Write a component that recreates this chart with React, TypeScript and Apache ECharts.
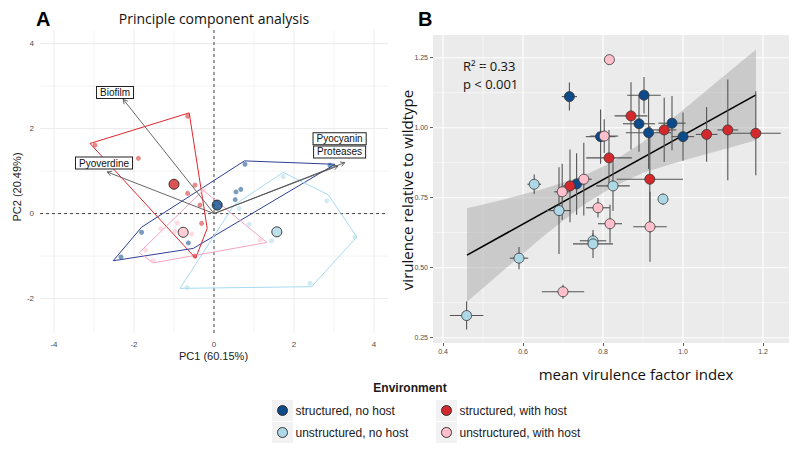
import React, { useEffect, useRef } from 'react';
import * as echarts from 'echarts';

// ---------- groups ----------
const groupNames = ['structured, no host', 'unstructured, no host', 'structured, with host', 'unstructured, with host'];
const fillColors = ['#0C4A8A', '#ADD8E6', '#D3282C', '#FFC0CB'];
const hullColors = ['#2E3F94', '#A6DBF2', '#E3262B', '#F5A3C3'];

// ---------- Panel A: PCA ----------
const pcaXTicks = [-4, -2, 0, 2, 4];
const pcaYTicks = [-2, 0, 2, 4];
const pcaSNH = [[0.775, 1.16], [2.9, 1.14], [0.55, 0.51], [0.67, 0.57], [0.53, 0.33], [-1.81, -0.44], [-0.64, -0.69], [-2.325, -1.02]];
const pcaUNH = [[1.73, 0.87], [2.82, 0.3], [3.525, -0.55], [2.4, -1.64], [-0.675, -1.74], [0.63, 0.12], [0.88, -0.25], [1.44, -0.64]];
const pcaSWH = [[-2.975, 1.61], [-1.89, 1.3], [-0.66, 2.29], [-0.475, 0.67], [-0.66, 0.475], [-0.35, 0.2], [-0.31, -0.23], [-0.48, -1.0]];
const pcaUWH = [[-1.325, -0.35], [-0.92, -0.22], [-0.56, -0.48], [-0.975, -0.42], [-1.71, -0.86], [-1.52, -1.11], [1.15, -0.62], [-0.27, 0.55]];
const hullSNH = [[-2.52, -1.11], [-1.81, -0.32], [0.76, 1.24], [3.025, 1.16], [-0.52, -0.82]];
const hullUNH = [[-0.85, -1.76], [0.5, 0.2], [1.73, 0.97], [2.86, 0.44], [3.57, -0.55], [2.44, -1.72]];
const hullSWH = [[-3.1, 1.65], [-0.62, 2.37], [-0.17, -0.35], [-0.46, -1.05]];
const hullUWH = [[-0.27, 0.55], [1.32, -0.68], [-1.52, -1.16], [-1.87, -0.92]];
const centroids = [[0.08, 0.2], [1.57, -0.43], [-1.0, 0.69], [-0.77, -0.44]];
const loadingNames = ['Biofilm', 'Pyoverdine', 'Pyocyanin', 'Proteases'];
const loadingTips = [[-2.27, 2.69], [-2.67, 0.98], [3.27, 1.2], [3.1, 1.12]];
const loadingLabelPos = [[-2.475, 2.85], [-2.75, 1.19], [3.14, 1.76], [3.14, 1.45]];

// ---------- Panel B: virulence ----------
const virXTicks = [0.4, 0.6, 0.8, 1.0, 1.2];
const virYTicks = [0.25, 0.5, 0.75, 1.0, 1.25];
// [x, y, xerr, yerr]
const virSNH = [[0.716, 1.111, 0.019, 0.05], [0.9025, 1.116, 0.042, 0.065], [0.89, 1.014, 0.04, 0.1], [0.914, 0.982, 0.057, 0.13], [0.9725, 1.016, 0.034, 0.097], [1.0, 0.968, 0.028, 0.086], [0.794, 0.968, 0.037, 0.097], [0.734, 0.799, 0.02, 0.11]];
const virUNH = [[0.628, 0.798, 0.017, 0.035], [0.825, 0.792, 0.042, 0.09], [0.95, 0.745, 0.01, 0.02], [0.69, 0.704, 0.03, 0.155], [0.775, 0.596, 0.033, 0.025], [0.775, 0.585, 0.05, 0.05], [0.59, 0.534, 0.023, 0.04], [0.459, 0.329, 0.042, 0.05]];
const virSWH = [[0.87, 1.042, 0.041, 0.12], [0.953, 0.992, 0.03, 0.115], [1.059, 0.976, 0.027, 0.098], [1.112, 0.992, 0.026, 0.18], [1.182, 0.98, 0.0625, 0.15], [0.815, 0.892, 0.057, 0.1], [0.917, 0.816, 0.083, 0.19], [0.7175, 0.792, 0.02, 0.13]];
const virUWH = [[0.816, 1.243, 0.012, 0.015], [0.803, 0.97, 0.035, 0.06], [0.752, 0.816, 0.02, 0.13], [0.698, 0.771, 0.02, 0.1], [0.7875, 0.714, 0.03, 0.035], [0.8175, 0.657, 0.03, 0.068], [0.9175, 0.646, 0.042, 0.125], [0.70, 0.414, 0.053, 0.025]];
const fitX = [0.46, 1.1825];
const fitY = [0.545, 1.117];
const bandX = [0.46, 0.55, 0.65, 0.75, 0.82, 0.9, 1.0, 1.1, 1.1825];
const bandLow = [0.378, 0.489, 0.611, 0.723, 0.785, 0.839, 0.883, 0.922, 0.955];
const bandHigh = [0.712, 0.743, 0.781, 0.827, 0.875, 0.949, 1.063, 1.182, 1.279];

const PCA_X = [-4.35, 4.35];
const PCA_Y = [-2.81, 4.32];
const VIR_X = [0.375, 1.265];
const VIR_Y = [0.231, 1.331];

const SANS = 'Liberation Sans, Arial, sans-serif';
const HUM = 'Open Sans, Noto Sans, sans-serif';

function gridLineData(xt: number[], yt: number[]) {
  const d: number[][] = [];
  const xs = xt[1] - xt[0];
  const ys = yt[1] - yt[0];
  xt.forEach((v) => d.push([v, 0, 1]));
  xt.slice(0, -1).forEach((v) => d.push([v + xs / 2, 0, 0]));
  yt.forEach((v) => d.push([v, 1, 1]));
  yt.slice(0, -1).forEach((v) => d.push([v + ys / 2, 1, 0]));
  d.push([yt[yt.length - 1] + ys / 2, 1, 0]);
  return d;
}

function gridSeries(idx: number, xt: number[], yt: number[], xr: number[], yr: number[], color: string, wMaj: number, wMin: number) {
  const data = gridLineData(xt, yt).filter((r) => (r[1] === 0 ? r[0] > xr[0] && r[0] < xr[1] : r[0] > yr[0] && r[0] < yr[1]));
  return {
    type: 'custom', xAxisIndex: idx, yAxisIndex: idx, z: 0, silent: true, clip: false,
    encode: { x: 2, y: 2 },
    data,
    renderItem: (params: any, api: any) => {
      const v = api.value(0), o = api.value(1), m = api.value(2);
      const p1 = o === 0 ? api.coord([v, yr[0]]) : api.coord([xr[0], v]);
      const p2 = o === 0 ? api.coord([v, yr[1]]) : api.coord([xr[1], v]);
      return { type: 'line', shape: { x1: p1[0], y1: p1[1], x2: p2[0], y2: p2[1] }, style: { stroke: color, lineWidth: m ? wMaj : wMin } };
    },
  };
}

function hullSeries(hull: number[][], color: string) {
  return {
    type: 'custom', xAxisIndex: 0, yAxisIndex: 0, z: 3, silent: true, clip: false,
    data: [[0, 0]],
    renderItem: (params: any, api: any) => ({
      type: 'polygon',
      shape: { points: hull.map((p) => api.coord(p)) },
      style: { fill: 'none', stroke: color, lineWidth: 1 },
    }),
  };
}

export default function App() {
  const ref = useRef<HTMLDivElement>(null);
  useEffect(() => {
    if (!ref.current) return;
    const chart = echarts.init(ref.current, undefined, { renderer: 'svg' });
    const pcaGroups = [pcaSNH, pcaUNH, pcaSWH, pcaUWH];
    const hulls = [hullSNH, hullUNH, hullSWH, hullUWH];
    const virGroups = [virSNH, virUNH, virSWH, virUWH];
    const allErr = ([] as number[][]).concat(virSNH, virUNH, virSWH, virUWH);

    const series: any[] = [];
    series.push(gridSeries(0, pcaXTicks, pcaYTicks, PCA_X, PCA_Y, '#EBEBEB', 1, 0.6));
    series.push(gridSeries(1, virXTicks, virYTicks, VIR_X, VIR_Y, '#FFFFFF', 1.1, 0.55));
    // zero lines
    series.push({
      type: 'custom', xAxisIndex: 0, yAxisIndex: 0, z: 1, silent: true, clip: false, data: [[0, 0]],
      renderItem: (params: any, api: any) => {
        const a = api.coord([0, PCA_Y[0]]), b = api.coord([0, PCA_Y[1]]);
        const c = api.coord([PCA_X[0], 0]), d = api.coord([PCA_X[1], 0]);
        const st = { stroke: '#333', lineWidth: 0.9, lineDash: [3, 3] };
        return { type: 'group', children: [
          { type: 'line', shape: { x1: a[0], y1: a[1], x2: b[0], y2: b[1] }, style: st },
          { type: 'line', shape: { x1: c[0], y1: c[1], x2: d[0], y2: d[1] }, style: st },
        ] };
      },
    });
    hulls.forEach((h, i) => series.push(hullSeries(h, hullColors[i])));
    // arrows
    series.push({
      type: 'custom', xAxisIndex: 0, yAxisIndex: 0, z: 4, silent: true, clip: false, data: loadingTips,
      renderItem: (params: any, api: any) => {
        const o = api.coord([0, 0]);
        const t = api.coord([api.value(0), api.value(1)]);
        const ang = Math.atan2(t[1] - o[1], t[0] - o[0]);
        const L = 5, a = 0.5;
        const p1 = [t[0] - L * Math.cos(ang - a), t[1] - L * Math.sin(ang - a)];
        const p2 = [t[0] - L * Math.cos(ang + a), t[1] - L * Math.sin(ang + a)];
        const st = { stroke: '#555', lineWidth: 0.9, fill: 'none' };
        return { type: 'group', children: [
          { type: 'line', shape: { x1: o[0], y1: o[1], x2: t[0], y2: t[1] }, style: st },
          { type: 'polyline', shape: { points: [p1, t, p2] }, style: st },
        ] };
      },
    });
    pcaGroups.forEach((g, i) => series.push({
      type: 'scatter', xAxisIndex: 0, yAxisIndex: 0, z: 5, silent: true, data: g,
      symbolSize: 5, itemStyle: { color: fillColors[i], opacity: 0.55 },
    }));
    series.push({
      type: 'scatter', xAxisIndex: 0, yAxisIndex: 0, z: 6, silent: true,
      data: centroids.map((c, i) => ({ value: c, itemStyle: { color: fillColors[i] } })),
      symbolSize: 10, itemStyle: { borderColor: '#111', borderWidth: 1 },
    });
    // loading labels
    series.push({
      type: 'custom', xAxisIndex: 0, yAxisIndex: 0, z: 7, silent: true, clip: false,
      data: loadingLabelPos.map((p, i) => [p[0], p[1], i]),
      renderItem: (params: any, api: any) => {
        const c = api.coord([api.value(0), api.value(1)]);
        return {
          type: 'text', x: c[0], y: c[1],
          style: { text: loadingNames[api.value(2)], font: `10px ${SANS}`, fill: '#111', align: 'center', verticalAlign: 'middle',
            backgroundColor: '#fff', borderColor: '#222', borderWidth: 1, padding: [1, 3, 0, 3] },
        };
      },
    });

    // panel B
    series.push({
      type: 'custom', xAxisIndex: 1, yAxisIndex: 1, z: 2, silent: true, clip: false, data: [[0.8, 0.8]],
      renderItem: (params: any, api: any) => {
        const pts = bandX.map((x, i) => api.coord([x, bandHigh[i]]))
          .concat(bandX.map((x, i) => api.coord([x, bandLow[i]])).reverse());
        return { type: 'polygon', shape: { points: pts }, style: { fill: 'rgba(153,153,153,0.4)' } };
      },
    });
    series.push({
      type: 'line', xAxisIndex: 1, yAxisIndex: 1, z: 3, silent: true, symbol: 'none',
      data: fitX.map((x, i) => [x, fitY[i]]), lineStyle: { color: '#000', width: 1.6 },
    });
    series.push({
      type: 'custom', xAxisIndex: 1, yAxisIndex: 1, z: 4, silent: true, clip: false, data: allErr,
      renderItem: (params: any, api: any) => {
        const x = api.value(0), y = api.value(1), xe = api.value(2), ye = api.value(3);
        const a = api.coord([x - xe, y]), b = api.coord([x + xe, y]);
        const c = api.coord([x, y - ye]), d = api.coord([x, y + ye]);
        const st = { stroke: '#555', lineWidth: 1.1 };
        return { type: 'group', children: [
          { type: 'line', shape: { x1: a[0], y1: a[1], x2: b[0], y2: b[1] }, style: st },
          { type: 'line', shape: { x1: c[0], y1: c[1], x2: d[0], y2: d[1] }, style: st },
        ] };
      },
    });
    virGroups.forEach((g, i) => series.push({
      type: 'scatter', xAxisIndex: 1, yAxisIndex: 1, z: 5, silent: true,
      data: g.map((r) => [r[0], r[1]]), symbolSize: 10,
      itemStyle: { color: fillColors[i], borderColor: '#333', borderWidth: 0.8, opacity: 1 },
    }));

    const tickLbl = { color: '#4D4D4D', fontFamily: SANS };
    const graphic: any[] = [
      { type: 'text', left: 36, top: 9, style: { text: 'A', font: `bold 20px ${SANS}`, fill: '#000' } },
      { type: 'text', left: 418, top: 9, style: { text: 'B', font: `bold 20px ${SANS}`, fill: '#000' } },
      { type: 'text', x: 214, y: 18, style: { text: 'Principle component analysis', font: `14px ${HUM}`, fill: '#111', align: 'center', verticalAlign: 'middle' } },
      { type: 'text', x: 213.5, y: 356, style: { text: 'PC1 (60.15%)', font: `11px ${SANS}`, fill: '#222', align: 'center', verticalAlign: 'middle' } },
      { type: 'text', x: 17, y: 187, rotation: Math.PI / 2, style: { text: 'PC2 (20.49%)', font: `11px ${SANS}`, fill: '#222', align: 'center', verticalAlign: 'middle' } },
      { type: 'text', x: 636, y: 374, style: { text: 'mean virulence factor index', font: `15px ${HUM}`, fill: '#111', align: 'center', verticalAlign: 'middle' } },
      { type: 'text', x: 407, y: 190, rotation: Math.PI / 2, style: { text: 'virulence relative to wildtype', font: `15px ${HUM}`, fill: '#111', align: 'center', verticalAlign: 'middle' } },
      { type: 'text', x: 463, y: 65.5, style: { text: 'R² = 0.33', font: `13px ${HUM}`, fill: '#111', verticalAlign: 'middle' } },
      { type: 'text', x: 463, y: 83.5, style: { text: 'p < 0.001', font: `13px ${HUM}`, fill: '#111', verticalAlign: 'middle' } },
      { type: 'text', x: 410, y: 388, style: { text: 'Environment', font: `bold 12px ${SANS}`, fill: '#1a1a1a', align: 'center', verticalAlign: 'middle' } },
    ];
    const legPos = [[272, 400], [272, 422], [436, 400], [436, 422]];
    groupNames.forEach((n, i) => {
      const [lx, ly] = legPos[i];
      graphic.push({ type: 'rect', shape: { x: lx, y: ly, width: 21, height: 21 }, style: { fill: '#F2F2F2' } });
      graphic.push({ type: 'circle', shape: { cx: lx + 10.5, cy: ly + 10.5, r: 5 }, style: { fill: fillColors[i], stroke: '#222', lineWidth: 0.9 } });
      graphic.push({ type: 'text', x: lx + 23.5, y: ly + 10.5, style: { text: n, font: `12px ${SANS}`, fill: '#1a1a1a', verticalAlign: 'middle' } });
    });

    chart.setOption({
      animation: false,
      grid: [
        { left: 40, top: 30, width: 348, height: 303, show: false },
        { left: 433, top: 35, width: 356, height: 308, show: true, backgroundColor: '#EBEBEB', borderWidth: 0 },
      ],
      xAxis: [
        { gridIndex: 0, type: 'value', min: PCA_X[0], max: PCA_X[1], splitLine: { show: false }, axisLine: { show: false }, axisTick: { show: false },
          axisLabel: { ...tickLbl, fontSize: 8, margin: 7, customValues: pcaXTicks, formatter: (v: number) => String(v) } },
        { gridIndex: 1, type: 'value', min: VIR_X[0], max: VIR_X[1], splitLine: { show: false }, axisLine: { show: false },
          axisTick: { show: true, length: 3, customValues: virXTicks, lineStyle: { color: '#333', width: 0.8 } },
          axisLabel: { ...tickLbl, fontSize: 7, margin: 5, customValues: virXTicks, formatter: (v: number) => v.toFixed(1) } },
      ],
      yAxis: [
        { gridIndex: 0, type: 'value', min: PCA_Y[0], max: PCA_Y[1], splitLine: { show: false }, axisLine: { show: false }, axisTick: { show: false },
          axisLabel: { ...tickLbl, fontSize: 8, margin: 6, customValues: pcaYTicks, formatter: (v: number) => String(v) } },
        { gridIndex: 1, type: 'value', min: VIR_Y[0], max: VIR_Y[1], splitLine: { show: false }, axisLine: { show: false },
          axisTick: { show: true, length: 3, customValues: virYTicks, lineStyle: { color: '#333', width: 0.8 } },
          axisLabel: { ...tickLbl, fontSize: 7, margin: 5, customValues: virYTicks, formatter: (v: number) => v.toFixed(2) } },
      ],
      series,
      graphic,
    });
    return () => chart.dispose();
  }, []);
  return <div ref={ref} style={{ position: 'fixed', left: 0, top: 0, width: 800, height: 456, background: '#fff' }} />;
}
